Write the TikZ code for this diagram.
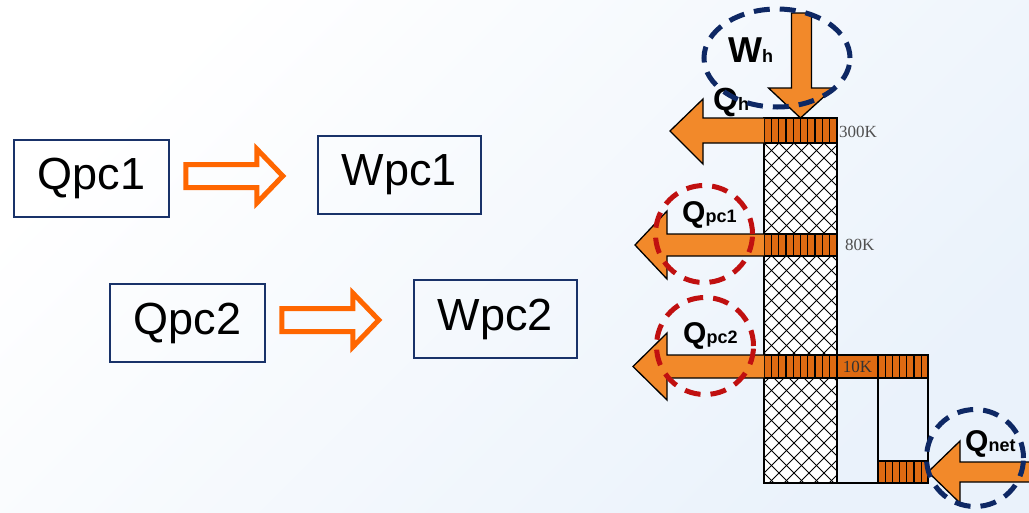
\documentclass[tikz,border=0pt]{standalone}
\usepackage{fontspec}
\setmainfont{Liberation Sans}
\newfontfamily\serifK{Liberation Serif}
\usetikzlibrary{calc}
\definecolor{navy}{RGB}{14,40,100}
\definecolor{boxnavy}{RGB}{25,50,105}
\definecolor{dred}{RGB}{192,16,16}
\definecolor{arroworange}{RGB}{242,137,42}
\definecolor{barorange}{RGB}{222,106,18}
\definecolor{hollowor}{RGB}{255,102,0}
\definecolor{bglight}{RGB}{234,242,251}
\definecolor{labgray}{RGB}{80,80,80}
\begin{document}
\begin{tikzpicture}[x=1pt,y=-1pt,
  txtbox/.style={draw=boxnavy, line width=1.6, inner sep=0, font=\fontsize{45}{45}\selectfont},
  hollow/.style={draw=hollowor, line width=5, line join=miter},
  heatarrow/.style={fill=arroworange, draw=black, line width=1.3, line join=miter},
  bar/.style={rectangle, fill=barorange, draw=black, line width=1.3, inner sep=0, outer sep=0, anchor=north west},
  stripe/.style={line width=1.3},
  dashring/.style={line width=5, dash pattern=on 16pt off 10pt},
  ringnode/.style={circle, draw=#1, dashring, minimum size=97, inner sep=0},
  qlabel/.style={anchor=base west, inner sep=0, font=\bfseries\fontsize{30}{30}\selectfont},
  klabel/.style={inner sep=0, font=\serifK\fontsize{17}{17}\selectfont}
]
\useasboundingbox (0,0) rectangle (1029,512);
\shade[top color=white, bottom color=bglight, shading angle=45] (0,0) rectangle (1029,512);

% left: boxes and hollow arrows
\node[txtbox, minimum width=155, minimum height=77] (q1) at (91.5,178.5) {Qpc1};
\node[txtbox, minimum width=163, minimum height=78] (w1) at (399.5,175) {Wpc1};
\node[txtbox, minimum width=155, minimum height=78] (q2) at (187.5,323) {Qpc2};
\node[txtbox, minimum width=163, minimum height=78] (w2) at (495.5,319) {Wpc2};
\draw[hollow] ($(q1.east)+(16,-14)$) -- ++(71,0) -- ++(0,-15.5) -- ++(26,27) -- ++(-26,27) -- ++(0,-15.5) -- ++(-71,0) -- cycle;
\draw[hollow] ($(q2.east)+(16,-14.5)$) -- ++(71,0) -- ++(0,-15.5) -- ++(26,27) -- ++(-26,27) -- ++(0,-15.5) -- ++(-71,0) -- cycle;

% right: cryostat
\node[rectangle, draw=black, line width=1.3, fill=white, minimum width=73, minimum height=365, inner sep=0, outer sep=0, anchor=north west] (pillar) at (764,118) {};
\begin{scope}
\clip (764,143) rectangle (837,483);
\foreach \s in {-360,-345,...,90} \draw[line width=0.9] (764+\s,143) -- ++(360,360);
\foreach \s in {0,15,...,450} \draw[line width=0.9] (764+\s,143) -- ++(-360,360);
\end{scope}
\draw[line width=1.3] (pillar.north west) rectangle (pillar.south east);

\node[bar, minimum width=73, minimum height=25] (b300) at (764,118) {};
\node[bar, minimum width=73, minimum height=22] (b80) at (764,234) {};
\node[bar, minimum width=73, minimum height=23] (b10) at (764,355) {};
\node[bar, minimum width=41, minimum height=23, font=\serifK\fontsize{17}{17}\selectfont, text=black!80] (c10) at (837,355) {10K};
\node[bar, minimum width=50, minimum height=23] (b10r) at (878,355) {};
\node[bar, minimum width=50, minimum height=22] (bnet) at (878,461) {};
\foreach \b in {b300,b80,b10}
  \foreach \k in {1,...,9}
    \draw[stripe] ($(\b.north west)+(\k*7.3,0)$) -- ($(\b.south west)+(\k*7.3,0)$);
\foreach \b in {b10r,bnet}
  \foreach \k in {1,...,6}
    \draw[stripe] ($(\b.north west)+(\k*7.2,0)$) -- ($(\b.south west)+(\k*7.2,0)$);
\draw[line width=1.3] (c10.south east) -- (bnet.north west);
\draw[line width=1.3] (b10r.south east) -- (bnet.north east);
\draw[line width=1.3] (pillar.south east) -- (bnet.south west);

\node[klabel, text=labgray, anchor=base west] (k300) at (839,137) {300K};
\node[klabel, text=labgray, anchor=base west] (k80) at (845,250) {80K};

% heat arrows
\draw[heatarrow] (b300.north west) -- ++(-61,0) -- ++(0,-19) -- ++(-33,32) -- ++(33,33) -- ++(0,-21) -- (b300.south west);
\draw[heatarrow] (b300.north) -- ++(-32,-30) -- ++(23,0) -- ++(0,-75) -- ++(20,0) -- ++(0,75) -- ++(22,0) -- cycle;
\draw[heatarrow] (b80.north west) -- ++(-97,0) -- ++(0,-23) -- ++(-32,34) -- ++(32,34) -- ++(0,-23) -- (b80.south west);
\draw[heatarrow] (b10.north west) -- ++(-97,0) -- ++(0,-22) -- ++(-34,33.5) -- ++(34,33.5) -- ++(0,-22) -- (b10.south west);
\coordinate (qnetin) at (1031,471.5);
\draw[heatarrow] ($(qnetin)+(0,-9.5)$) -- ++(-71,0) -- ++(0,-21) -- (bnet.east) -- ++(32,31) -- ++(0,-21) -- ++(71,0);

% labels
\node[qlabel, font=\bfseries\fontsize{36}{36}\selectfont] (wh) at (728,62) {W{\fontsize{18}{18}\selectfont h}};
\node[qlabel, font=\bfseries\fontsize{32}{32}\selectfont] (qh) at (713,110) {Q{\fontsize{18}{18}\selectfont h}};
\node[qlabel] (qpc1) at (682,222) {Q{\fontsize{18}{18}\selectfont pc1}};
\node[qlabel] (qpc2) at (683,343) {Q{\fontsize{18}{18}\selectfont pc2}};
\node[qlabel] (qnet) at (965,451) {Q{\fontsize{18}{18}\selectfont net}};

% dashed rings
\draw[navy, dashring] (777,58) ellipse [x radius=73pt, y radius=49pt];
\node[ringnode=dred] (cpc1) at (704,234) {};
\node[ringnode=dred] (cpc2) at (705,346) {};
\node[ringnode=navy] (cnet) at (975,458) {};
\end{tikzpicture}
\end{document}
